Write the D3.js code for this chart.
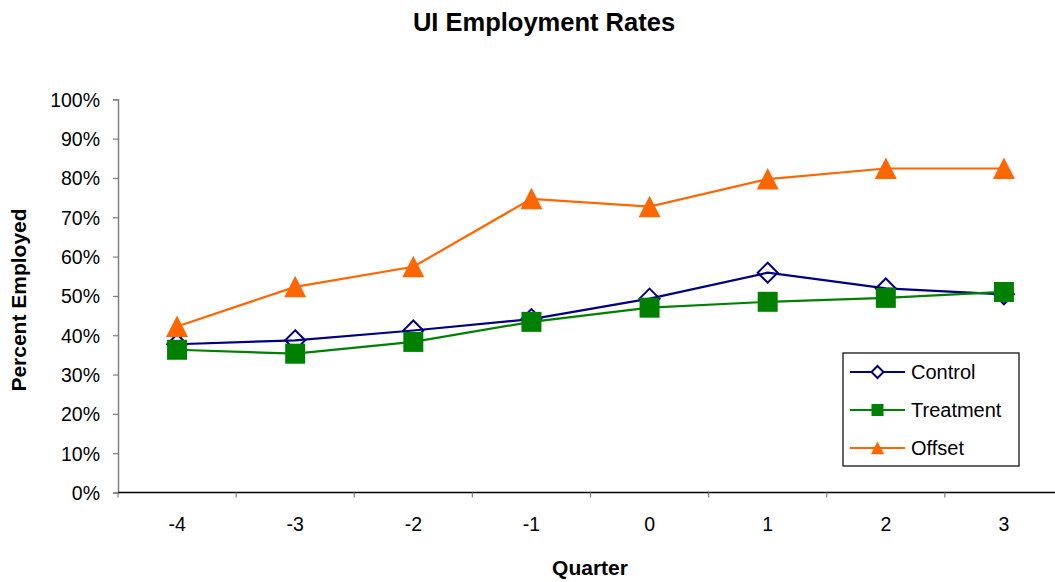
<!DOCTYPE html>
<html>
<head>
<meta charset="utf-8">
<script src="https://cdn.jsdelivr.net/npm/d3@7"></script>
<style>
  html, body { margin: 0; padding: 0; background: #fff; }
  svg { display: block; font-family: Arial, "Liberation Sans", sans-serif; }
</style>
</head>
<body>
<svg id="chart" width="1055" height="582"></svg>
<script>
// Quarters relative to the UI claim
const quarters = ["-4", "-3", "-2", "-1", "0", "1", "2", "3"];

// Share of people employed in each quarter
const controlRates   = [0.377, 0.387, 0.412, 0.441, 0.493, 0.559, 0.519, 0.504];
const treatmentRates = [0.363, 0.353, 0.383, 0.434, 0.470, 0.485, 0.495, 0.510];
const offsetRates    = [0.422, 0.523, 0.574, 0.747, 0.727, 0.797, 0.824, 0.824];

const yTicks = [0, 0.1, 0.2, 0.3, 0.4, 0.5, 0.6, 0.7, 0.8, 0.9, 1.0];

const seriesNames = ["Control", "Treatment", "Offset"];

const series = [
  { name: seriesNames[0], values: controlRates,   color: "#000080", marker: "diamond" },
  { name: seriesNames[1], values: treatmentRates, color: "#008000", marker: "square" },
  { name: seriesNames[2], values: offsetRates,    color: "#FF6600", marker: "triangle" }
];

const svg = d3.select("#chart");
const plot = { left: 118, right: 1063, top: 99.3, bottom: 492.5 };

const x = d3.scaleBand().domain(quarters).range([plot.left, plot.right]).paddingInner(0).paddingOuter(0);
const y = d3.scaleLinear().domain([0, 1]).range([plot.bottom, plot.top]);
const cx = q => x(q) + x.bandwidth() / 2;

// Title
svg.append("text")
  .attr("x", 544).attr("y", 31)
  .attr("text-anchor", "middle")
  .attr("font-size", 25.5).attr("font-weight", "bold")
  .text("UI Employment Rates");

// Y axis
const yAxis = d3.axisLeft(y).tickValues(yTicks).tickFormat(d3.format(".0%")).tickSize(5).tickPadding(13);
const gy = svg.append("g").attr("transform", `translate(${plot.left},0)`).call(yAxis);
gy.select(".domain").attr("stroke", "#808080").attr("stroke-width", 1.5);
gy.selectAll(".tick line").attr("stroke", "#808080").attr("stroke-width", 1.2);
gy.selectAll(".tick text").attr("font-size", 19.5).attr("fill", "#000").attr("font-family", "Arial, 'Liberation Sans', sans-serif").attr("dy", "0.36em");

// X axis: ticks sit on the category boundaries, labels in the middle of each band
const gx = svg.append("g").attr("transform", `translate(0,${plot.bottom})`);
gx.append("line")
  .attr("x1", plot.left).attr("x2", plot.right)
  .attr("stroke", "#000").attr("stroke-width", 1.5);
gx.selectAll("line.tick")
  .data(quarters)
  .join("line")
  .attr("class", "tick")
  .attr("x1", d => x(d)).attr("x2", d => x(d))
  .attr("y1", 0).attr("y2", 5)
  .attr("stroke", "#808080").attr("stroke-width", 1.2);
gx.selectAll("text")
  .data(quarters)
  .join("text")
  .attr("x", cx).attr("y", 38)
  .attr("text-anchor", "middle")
  .attr("font-size", 19.5)
  .text(d => d);

// Axis titles
svg.append("text")
  .attr("x", 590).attr("y", 575)
  .attr("text-anchor", "middle")
  .attr("font-size", 21).attr("font-weight", "bold")
  .text("Quarter");

svg.append("text")
  .attr("transform", "translate(26,300) rotate(-90)")
  .attr("text-anchor", "middle")
  .attr("font-size", 21).attr("font-weight", "bold")
  .text("Percent Employed");

// Marker shapes
function markerPath(type) {
  if (type === "diamond") return "M0,-10L10,0L0,10L-10,0Z";
  if (type === "square") return "M-10,-10H10V10H-10Z";
  return "M0,-11L11,10.5H-11Z";
}
function styleMarker(sel, s) {
  if (s.marker === "diamond") {
    sel.attr("fill", "none").attr("stroke", s.color).attr("stroke-width", 2);
  } else {
    sel.attr("fill", s.color).attr("stroke", "none");
  }
}

const line = d3.line().x(d => cx(d.q)).y(d => y(d.v));

series.forEach(s => {
  const pts = quarters.map((q, i) => ({ q, v: s.values[i] }));
  const g = svg.append("g");
  g.append("path")
    .datum(pts)
    .attr("d", line)
    .attr("fill", "none")
    .attr("stroke", s.color)
    .attr("stroke-width", 2.2);
  g.selectAll("path.mk")
    .data(pts)
    .join("path")
    .attr("class", "mk")
    .attr("d", markerPath(s.marker))
    .attr("transform", d => `translate(${cx(d.q)},${y(d.v)})`)
    .call(styleMarker, s);
});

// Legend
const legend = svg.append("g");
legend.append("rect")
  .attr("x", 843).attr("y", 353).attr("width", 176).attr("height", 113)
  .attr("fill", "#fff").attr("stroke", "#000").attr("stroke-width", 1.2);
const legendRows = [372, 410, 448];
series.forEach((s, i) => {
  const ly = legendRows[i];
  legend.append("line")
    .attr("x1", 850).attr("x2", 905).attr("y1", ly).attr("y2", ly)
    .attr("stroke", s.color).attr("stroke-width", 2);
  legend.append("path")
    .attr("d", markerPath(s.marker))
    .attr("transform", `translate(877.5,${ly}) scale(0.6)`)
    .call(sel => {
      if (s.marker === "diamond") sel.attr("fill", "#fff").attr("stroke", s.color).attr("stroke-width", 3.3);
      else sel.attr("fill", s.color);
    });
  legend.append("text")
    .attr("x", 911).attr("y", ly).attr("dy", "0.36em")
    .attr("font-size", 20)
    .text(s.name);
});
</script>
</body>
</html>
